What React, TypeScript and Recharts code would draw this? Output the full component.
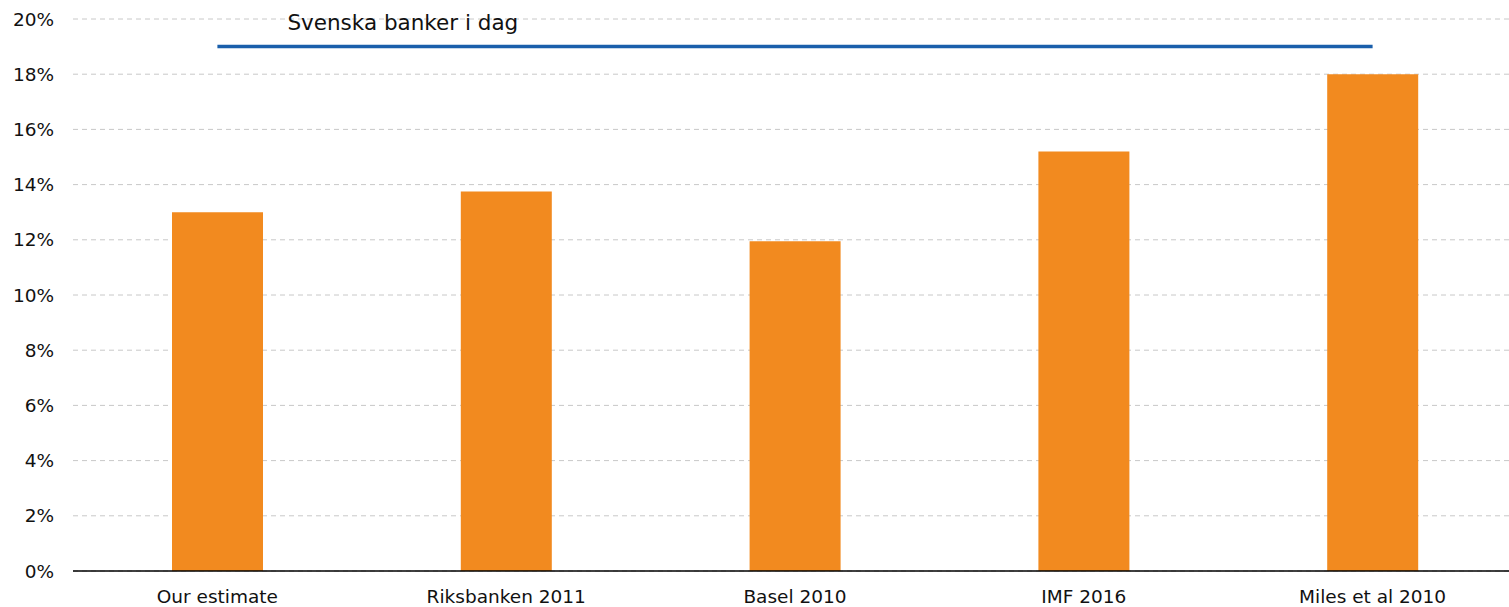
import { ComposedChart, Bar, Line, XAxis, YAxis, CartesianGrid } from "recharts"

const categories = ["Our estimate", "Riksbanken 2011", "Basel 2010", "IMF 2016", "Miles et al 2010"]
const estimates = [13, 13.75, 11.95, 15.2, 18]
const swedishBanksToday = [19, 19, 19, 19, 19]
const yTicks = [0, 2, 4, 6, 8, 10, 12, 14, 16, 18, 20]
const lineName = "Svenska banker i dag"

const data = categories.map((name, i) => ({
  name,
  estimate: estimates[i],
  today: swedishBanksToday[i],
}))

const font = "'DejaVu Sans', Verdana, sans-serif"

// series name printed above the start of the line, like the original
function LineLabel(props: any) {
  const { x, y, index } = props
  if (index !== 0) return null
  return (
    <text x={x + 70} y={y - 17} fill="#111" fontSize={21.5} fontFamily={font}>
      {lineName}
    </text>
  )
}

export default function App() {
  return (
    <div style={{ fontFamily: font, padding: "8px 0 0 8px" }}>
      <style>{"body{margin:0;overflow:hidden}"}</style>
      <ComposedChart
        width={1509}
        height={599}
        data={data}
        margin={{ top: 11, right: 0, bottom: 0, left: 0 }}
      >
        <CartesianGrid vertical={false} stroke="#c8c8c8" strokeDasharray="5 4" />
        <XAxis
          dataKey="name"
          height={36}
          tickLine={false}
          tickSize={0}
          tickMargin={19}
          axisLine={{ stroke: "#000", strokeWidth: 1.5 }}
          tick={{ fill: "#111", fontSize: 18.5, fontFamily: font }}
          interval={0}
        />
        <YAxis
          width={65}
          domain={[0, 20]}
          ticks={yTicks}
          tickFormatter={(v) => `${v}%`}
          axisLine={false}
          tickLine={false}
          tickSize={0}
          tickMargin={19}
          tick={{ fill: "#111", fontSize: 18.5, fontFamily: font }}
        />
        <Bar dataKey="estimate" name="Estimate" fill="#f28a1f" barSize={91} isAnimationActive={false} />
        <Line
          dataKey="today"
          name={lineName}
          stroke="#1a5fab"
          strokeWidth={3.5}
          dot={false}
          activeDot={false}
          label={<LineLabel />}
          isAnimationActive={false}
        />
      </ComposedChart>
    </div>
  )
}
